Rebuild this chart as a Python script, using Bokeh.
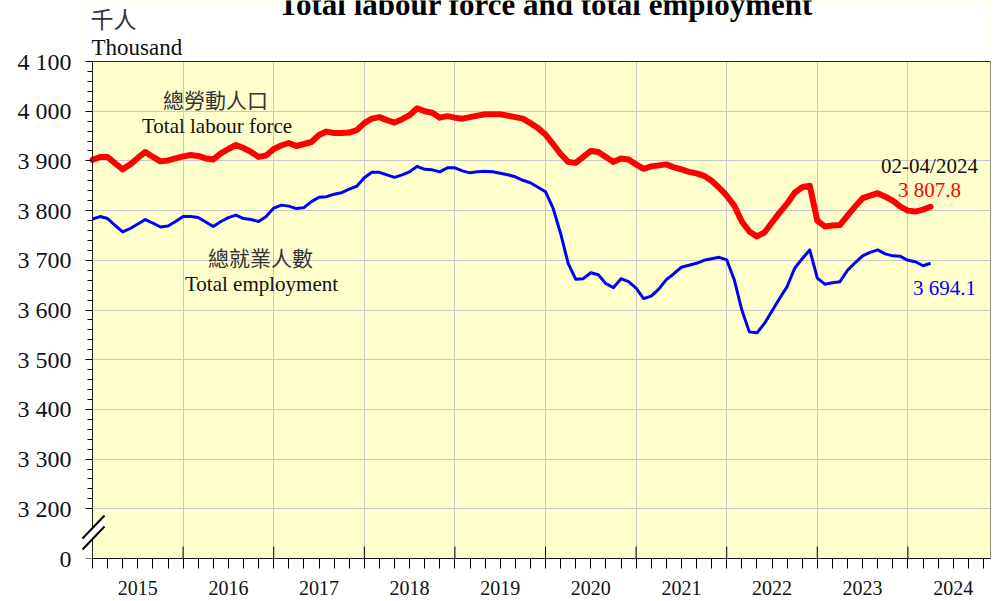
import numpy as np
from bokeh.plotting import figure
from bokeh.models import (Range1d, FixedTicker, Label, PolyAnnotation, BoxAnnotation,
                          LinearAxis)
from bokeh.embed import file_html
from bokeh.resources import INLINE

# ---- data (thousand persons), 3-month moving periods, month index 0 = 11/2014-01/2015 ----
labour_force = [
    3902, 3908, 3908, 3895, 3883, 3893, 3906, 3918, 3908, 3899, 3901, 3905,
    3909, 3912, 3910, 3905, 3903, 3915, 3924, 3932, 3926, 3918, 3908, 3911,
    3924, 3931, 3936, 3930, 3934, 3938, 3952, 3959, 3956, 3956, 3957, 3962,
    3976, 3985, 3988, 3982, 3977, 3984, 3992, 4006, 4000, 3997, 3987, 3990,
    3987, 3985, 3988, 3991, 3994, 3994, 3994, 3991, 3988, 3985, 3976, 3966,
    3953, 3934, 3914, 3898, 3896, 3908, 3920, 3918, 3908, 3898, 3905, 3903,
    3893, 3884, 3889, 3891, 3893, 3887, 3883, 3878, 3875, 3870, 3860, 3846,
    3830, 3810, 3778, 3758, 3748, 3756, 3776, 3796, 3814, 3836, 3847, 3850,
    3780, 3768, 3770, 3771, 3790, 3808, 3825, 3830, 3835, 3828, 3820, 3808,
    3800, 3798, 3802, 3807.8,
]
employment = [
    3783, 3788, 3784, 3770, 3757, 3764, 3773, 3782, 3775, 3767, 3769, 3778,
    3788, 3788, 3786, 3777, 3768, 3778, 3786, 3791, 3784, 3782, 3778, 3788,
    3805, 3811, 3809, 3804, 3806, 3818, 3827, 3828, 3833, 3836, 3843, 3849,
    3866, 3877, 3877, 3872, 3867, 3872, 3878, 3889, 3883, 3882, 3878, 3886,
    3886, 3880, 3876, 3878, 3879, 3878, 3875, 3872, 3868, 3861, 3856, 3847,
    3838, 3805, 3754, 3694, 3662, 3663, 3675, 3671, 3653, 3645, 3663, 3657,
    3644, 3623, 3628, 3642, 3661, 3673, 3686, 3690, 3694, 3700, 3703, 3706,
    3701, 3661, 3600, 3556, 3554, 3573, 3598, 3623, 3647, 3684, 3703, 3721,
    3664, 3652, 3655, 3657, 3680, 3695, 3709, 3716, 3721, 3713, 3709, 3708,
    3700, 3697, 3689, 3694.1,
]
years = ["2015", "2016", "2017", "2018", "2019", "2020", "2021", "2022", "2023", "2024"]
y_tick_values = [3100, 3200, 3300, 3400, 3500, 3600, 3700, 3800, 3900, 4000, 4100]
y_tick_labels = ["0", "3 200", "3 300", "3 400", "3 500", "3 600", "3 700", "3 800", "3 900",
                 "4 000", "4 100"]
last_period = "02-04/2024"
last_lf_text = "3 807.8"
last_emp_text = "3 694.1"
title_text = "Total labour force and total employment"

# ---- layout (page pixels; the page has no body margin) ----
W, H = 999, 601
FRAME_LEFT = 80           # frame starts a bit left of the axis so the break mark fits
L = 92                    # left edge of the plot area (x = 0)
R = 990                   # right edge of the plot area
Y_TOP_PX, Y_BOT_PX = 61, 558   # pixel rows of 4100 and of the axis base
X_END = 118.94
Y0, Y1 = 3100, 4100
PX_PER_MONTH = (R - L) / X_END
PX_PER_UNIT = (Y_BOT_PX - Y_TOP_PX) / (Y1 - Y0)
X_START = -(L - FRAME_LEFT) / PX_PER_MONTH
Y_CANVAS_TOP = Y1 + Y_TOP_PX / PX_PER_UNIT      # frame reaches the top of the canvas


def dx(px):
    return (px - L) / PX_PER_MONTH


def dy(py):
    return Y0 + (Y_BOT_PX - py) / PX_PER_UNIT


SERIF = "Liberation Serif"
CJK = "Noto Sans CJK TC"

p = figure(width=W, height=H, output_backend="svg", toolbar_location=None, title=None,
           x_range=Range1d(X_START, X_END), y_range=Range1d(Y0, Y_CANVAS_TOP),
           min_border_left=FRAME_LEFT, min_border_top=0,
           min_border_right=W - R, min_border_bottom=H - Y_BOT_PX)
p.background_fill_color = "#FFFFCC"
p.border_fill_color = "white"
p.outline_line_color = None

months = np.arange(len(labour_force))
year_starts = [12 * i for i in range(len(years))]
year_mids = [s + 6 for s in year_starts]

# white bands outside the plot area (over the background, under the grid-free glyphs)
p.add_layout(BoxAnnotation(bottom=Y1, fill_color="white", fill_alpha=1, line_alpha=0,
                           level="underlay"))
p.add_layout(BoxAnnotation(right=0, fill_color="white", fill_alpha=1, line_alpha=0,
                           level="underlay"))

# year-boundary inner ticks
p.segment(x0=year_starts[1:], y0=Y0, x1=year_starts[1:], y1=dy(546),
          line_color="black", line_width=1)

p.line(months, employment, line_color="#0000FF", line_width=3, line_join="round")
p.line(months, labour_force, line_color="#FF0000", line_width=6, line_join="round",
       line_cap="round")

# y axis line and ticks, drawn at x = 0 (labels come from a second axis)
yax = p.yaxis[0]
yax.fixed_location = 0
yax.bounds = (Y0, Y1)
yax.ticker = FixedTicker(ticks=y_tick_values, minor_ticks=list(range(3200, 4101, 20)))
yax.major_label_overrides = {v: "" for v in y_tick_values}
yax.major_label_standoff = 0
yax.major_tick_in = 0
yax.major_tick_out = 7
yax.minor_tick_in = 0
yax.minor_tick_out = 5
yax.axis_line_color = "black"
yax.major_tick_line_color = "black"
yax.minor_tick_line_color = "black"

# y tick labels
ylab = LinearAxis(ticker=FixedTicker(ticks=y_tick_values, minor_ticks=[]),
                  major_label_overrides={v: s for v, s in zip(y_tick_values, y_tick_labels)},
                  major_label_text_font=SERIF, major_label_text_font_size="24px",
                  major_label_text_color="#111111", major_label_standoff=9,
                  major_tick_in=0, major_tick_out=0, minor_tick_in=0, minor_tick_out=0,
                  axis_line_color=None, major_tick_line_color=None,
                  minor_tick_line_color=None)
p.add_layout(ylab, "left")

# x axis: year labels centred in each year, 2-monthly minor ticks
p.xaxis.bounds = (0, X_END)
p.xaxis.ticker = FixedTicker(ticks=year_mids, minor_ticks=list(range(0, 119, 2)))
p.xaxis.major_label_overrides = {m: y for m, y in zip(year_mids, years)}
p.xaxis.major_label_text_font = SERIF
p.xaxis.major_label_text_font_size = "20px"
p.xaxis.major_label_text_color = "#111111"
p.xaxis.major_label_standoff = 12
p.xaxis.major_tick_in = 0
p.xaxis.major_tick_out = 0
p.xaxis.minor_tick_in = 0
p.xaxis.minor_tick_out = 10
p.xaxis.axis_line_color = "black"
p.xaxis.minor_tick_line_color = "black"

p.xgrid.ticker = FixedTicker(ticks=year_starts[1:])
p.ygrid.ticker = FixedTicker(ticks=y_tick_values[1:])
p.xgrid.grid_line_color = "#C8C8C8"
p.ygrid.grid_line_color = "#C8C8C8"

# plot-area border
p.add_layout(BoxAnnotation(left=0, right=X_END, bottom=Y0, top=Y1, fill_alpha=0,
                           line_color="#222222", line_alpha=1, line_width=1))

# axis break symbol
p.add_layout(PolyAnnotation(xs=[dx(82), dx(104), dx(104), dx(82)],
                            ys=[dy(538), dy(515), dy(526), dy(549)],
                            fill_color="white", fill_alpha=1, line_alpha=0))
for (x1, y1, x2, y2) in [(82, 538, 104, 515), (82, 549, 104, 526)]:
    p.add_layout(PolyAnnotation(xs=[dx(x1), dx(x2)], ys=[dy(y1), dy(y2)],
                                fill_alpha=0, line_color="black", line_alpha=1,
                                line_width=2))

# title and unit texts
p.add_layout(Label(x=dx(545), y=dy(3.5), text=title_text, text_font=SERIF, text_font_size="31px",
                   text_font_style="bold", text_align="center", text_baseline="middle",
                   text_color="black"))
p.add_layout(Label(x=dx(90), y=dy(17.5), text="千人", text_font=CJK, text_font_size="23px",
                   text_align="left", text_baseline="middle", text_color="#333333"))
p.add_layout(Label(x=dx(91), y=dy(47), text="Thousand", text_font=SERIF, text_font_size="23px",
                   text_align="left", text_baseline="middle", text_color="#111111"))

# series labels
p.add_layout(Label(x=dx(215), y=dy(98.5), text="總勞動人口", text_font=CJK, text_font_size="21px",
                   text_align="center", text_baseline="middle", text_color="#333333"))
p.add_layout(Label(x=dx(216.5), y=dy(125), text="Total labour force", text_font=SERIF,
                   text_font_size="21px", text_align="center", text_baseline="middle",
                   text_color="#111111"))
p.add_layout(Label(x=dx(260), y=dy(256), text="總就業人數", text_font=CJK, text_font_size="21px",
                   text_align="center", text_baseline="middle", text_color="#333333"))
p.add_layout(Label(x=dx(261), y=dy(283), text="Total employment", text_font=SERIF,
                   text_font_size="21px", text_align="center", text_baseline="middle",
                   text_color="#111111"))

# latest values
p.add_layout(Label(x=dx(929), y=dy(165), text=last_period, text_font=SERIF, text_font_size="21px",
                   text_align="center", text_baseline="middle", text_color="#111111"))
p.add_layout(Label(x=dx(929), y=dy(189.5), text=last_lf_text, text_font=SERIF,
                   text_font_size="21px", text_align="center", text_baseline="middle",
                   text_color="#FF0000"))
p.add_layout(Label(x=dx(944), y=dy(287.5), text=last_emp_text, text_font=SERIF,
                   text_font_size="21px", text_align="center", text_baseline="middle",
                   text_color="#0000FF"))

open("out.html", "w").write(file_html(p, INLINE))
